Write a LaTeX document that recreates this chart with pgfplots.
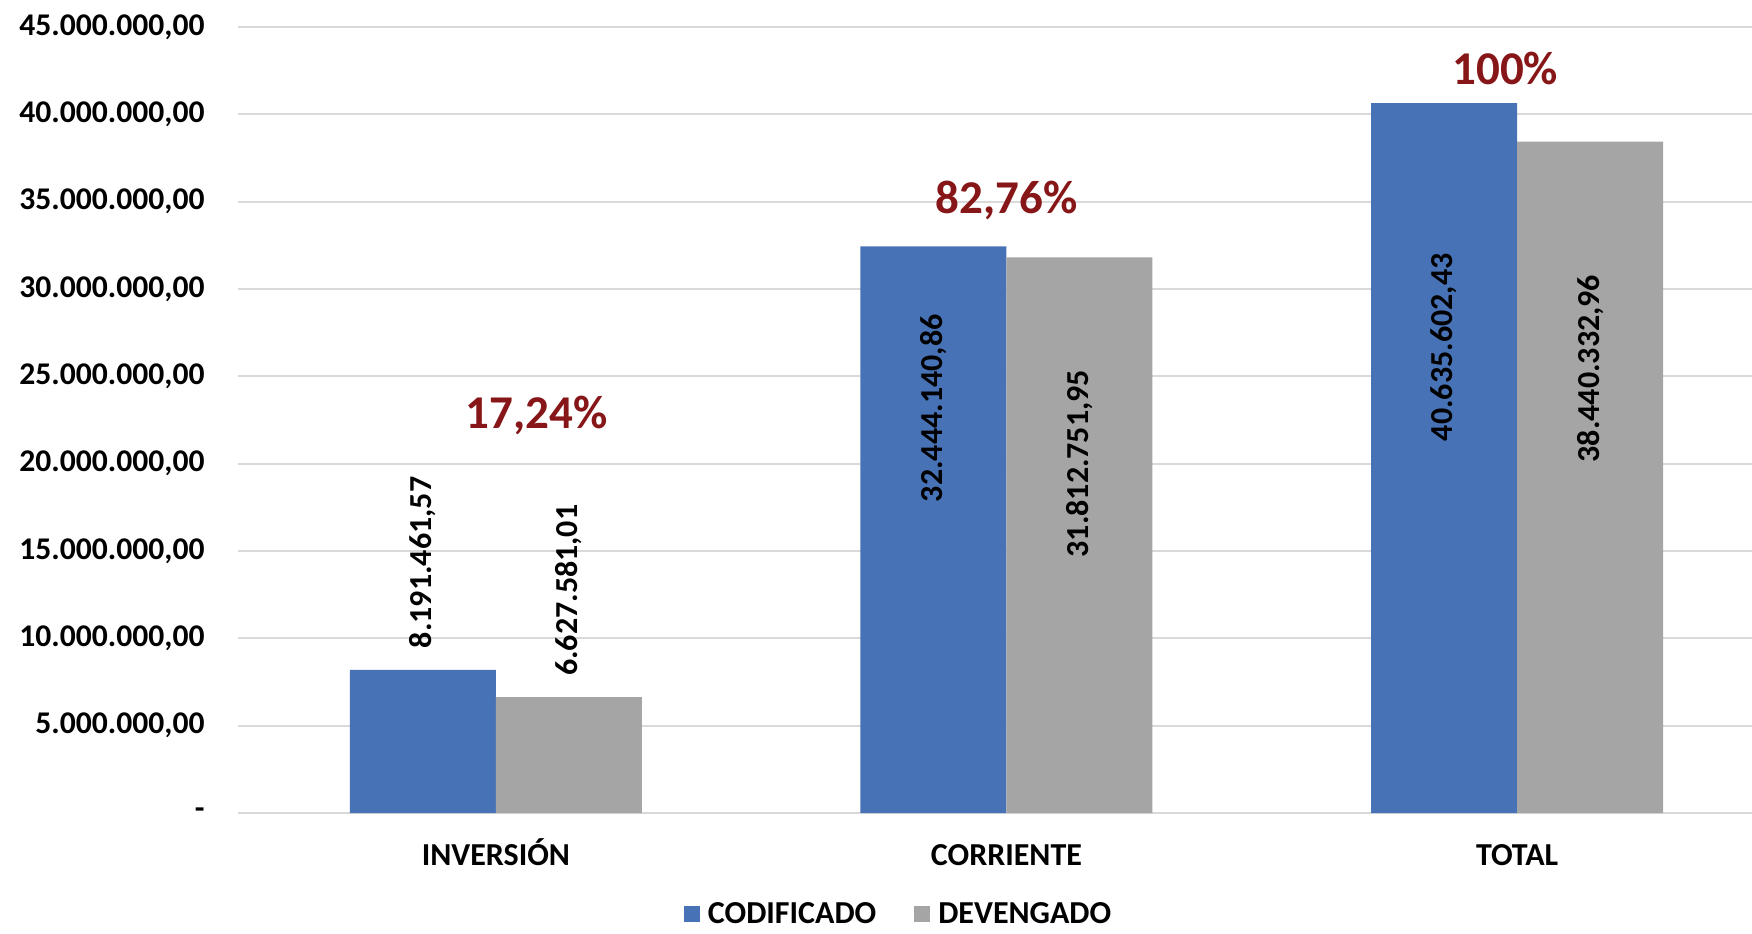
\documentclass[border=0pt]{standalone}
\usepackage{pgfplots}
\pgfplotsset{compat=1.18}
\usepackage{fontspec}
\setmainfont{Carlito}
\definecolor{cblue}{RGB}{72,114,182}
\definecolor{cgray}{RGB}{165,165,165}
\definecolor{cgrid}{RGB}{217,217,217}
\definecolor{cred}{RGB}{134,22,24}
\begin{document}
\begin{tikzpicture}
\useasboundingbox (-119pt,-60pt) rectangle (757pt,406.5pt);
\begin{axis}[
  scale only axis,
  width=757pt, height=393pt,
  ybar=0pt, bar width=73pt,
  xmin=-0.505, xmax=2.46,
  ymin=0, ymax=45000000,
  scaled y ticks=false,
  xtick={0,1,2},
  xticklabels={INVERSIÓN,CORRIENTE,TOTAL},
  ytick={0,5000000,10000000,15000000,20000000,25000000,30000000,35000000,40000000,45000000},
  yticklabels={-,{5.000.000,00},{10.000.000,00},{15.000.000,00},{20.000.000,00},{25.000.000,00},{30.000.000,00},{35.000.000,00},{40.000.000,00},{45.000.000,00}},
  major tick length=0pt,
  axis line style={draw=none},
  ymajorgrids,
  grid style={cgrid, line width=1pt},
  yticklabel style={font=\fontsize{15.8}{18}\selectfont\bfseries, inner sep=0pt, anchor=east, xshift=-16.5pt},
  xticklabel style={font=\fontsize{16}{19}\selectfont\bfseries, inner sep=0pt, anchor=base, yshift=-26pt},
  legend style={at={(0.437,-0.129)}, anchor=center, draw=none, fill=none, inner sep=0pt,
    legend columns=2, font=\fontsize{16}{19}\selectfont\bfseries,
    /tikz/every odd column/.append style={column sep=2pt},
    /tikz/every even column/.append style={column sep=17pt}},
  legend image code/.code={\fill[#1] (0pt,-4pt) rectangle (8pt,4pt);},
  clip=false,
]
\addplot[fill=cblue, draw=none] coordinates {(0,8191461.57) (1,32444140.86) (2,40635602.43)};
\addlegendentry{CODIFICADO}
\addplot[fill=cgray, draw=none] coordinates {(0,6627581.01) (1,31812751.95) (2,38440332.96)};
\addlegendentry{DEVENGADO}
\begin{scope}[every node/.style={font=\fontsize{16}{19}\selectfont\bfseries, rotate=90, anchor=center, inner sep=0pt}]
\node at (axis cs:-0.143,14350000) {8.191.461,57};
\node at (axis cs:0.143,12750000) {6.627.581,01};
\node at (axis cs:0.857,23170000) {32.444.140,86};
\node at (axis cs:1.143,20000000) {31.812.751,95};
\node at (axis cs:1.857,26660000) {40.635.602,43};
\node at (axis cs:2.143,25440000) {38.440.332,96};
\end{scope}
\begin{scope}[every node/.style={font=\fontsize{23.5}{28}\selectfont\bfseries, text=cred, anchor=base, inner sep=0pt}]
\node at (axis cs:0.08,22040000) {17,24\%};
\node at (axis cs:1.0,34320000) {82,76\%};
\node at (axis cs:1.977,41730000) {100\%};
\end{scope}
\end{axis}
\end{tikzpicture}
\end{document}
